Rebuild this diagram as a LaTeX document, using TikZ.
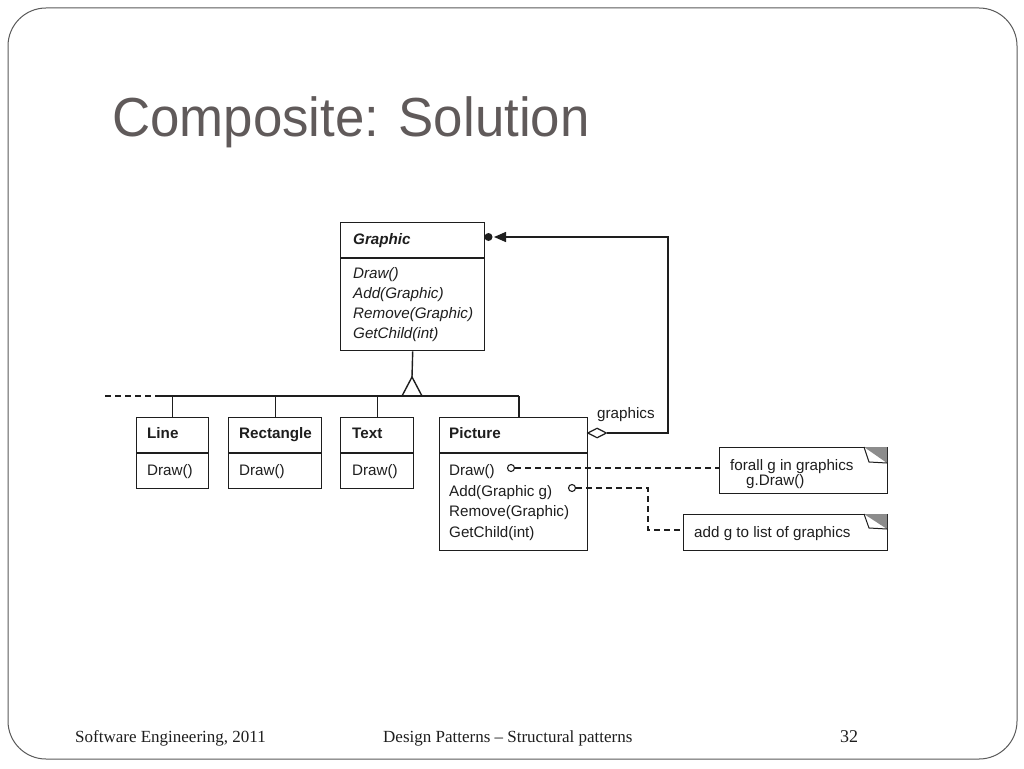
\documentclass[tikz,border=0pt]{standalone}
\usepackage{fontspec}
\setmainfont{Liberation Sans}
\newfontfamily\seriffont[Ligatures=TeX]{Liberation Serif}
\usetikzlibrary{arrows.meta,shapes.geometric}
\definecolor{titlegray}{RGB}{96,90,90}
\definecolor{framegray}{RGB}{90,90,90}
\definecolor{foldgray}{RGB}{140,140,140}
\definecolor{ink}{RGB}{30,30,30}
\begin{document}
\begin{tikzpicture}[x=1pt,y=-1pt,
  box/.style={draw=ink, line width=1.4pt, inner sep=0pt, anchor=north west},
  lbl/.style={anchor=base west, inner sep=0pt, text=ink, font=\fontsize{15.2}{18}\selectfont},
  hdr/.style={lbl, font=\fontsize{15.2}{18}\selectfont\bfseries},
  ihdr/.style={lbl, font=\fontsize{15.2}{18}\selectfont\bfseries\itshape},
  imeth/.style={lbl, font=\fontsize{15.2}{18}\selectfont\itshape},
  conn/.style={draw=ink, line width=1.4pt},
  dsh/.style={draw=ink, line width=1.3pt, dash pattern=on 6pt off 4pt},
  pin/.style={circle, draw=ink, line width=1.1pt, fill=white, inner sep=0pt, minimum size=7pt},
  foot/.style={anchor=base west, inner sep=0pt, text=ink, font=\seriffont\fontsize{17}{20}\selectfont}]
\useasboundingbox (0,0) rectangle (1024,768);
\fill[white] (0,0) rectangle (1024,768);
\draw[framegray, line width=1pt, rounded corners=38pt] (8,8) rectangle (1017,759);

% title
\node[anchor=base west, inner sep=0pt, text=titlegray, font=\fontsize{55}{62}\selectfont] (title) at (112,136) {\scalebox{0.96}[1]{Composite: Solution}};

% Graphic
\node[box, minimum width=144pt, minimum height=128pt] (graphic) at (340,222) {};
\draw[conn] (340,258) -- (484,258);
\node[ihdr] (gname) at (353,244) {Graphic};
\node[imeth] (g1) at (353,278) {Draw()};
\node[imeth] (g2) at (353,298) {Add(Graphic)};
\node[imeth] (g3) at (353,318) {Remove(Graphic)};
\node[imeth] (g4) at (353,338) {GetChild(int)};

% subclasses
\node[box, minimum width=72pt, minimum height=71pt] (line) at (136,417) {};
\draw[conn] (136,453) -- (208,453);
\node[hdr] (lname) at (147,438) {Line};
\node[lbl] (l1) at (147,475) {Draw()};

\node[box, minimum width=93pt, minimum height=71pt] (rect) at (228,417) {};
\draw[conn] (228,453) -- (321,453);
\node[hdr] (rname) at (239,438) {Rectangle};
\node[lbl] (r1) at (239,475) {Draw()};

\node[box, minimum width=73pt, minimum height=71pt] (text) at (340,417) {};
\draw[conn] (340,453) -- (413,453);
\node[hdr] (tname) at (352,438) {Text};
\node[lbl] (t1) at (352,475) {Draw()};

\node[box, minimum width=148pt, minimum height=133pt] (picture) at (439,417) {};
\draw[conn] (439,453) -- (587,453);
\node[hdr] (pname) at (449,438) {Picture};
\node[lbl] (p1) at (449,475) {Draw()};
\node[lbl] (p2) at (449,496) {Add(Graphic g)};
\node[lbl] (p3) at (449,516) {Remove(Graphic)};
\node[lbl] (p4) at (449,537) {GetChild(int)};

% inheritance
\coordinate (apex) at (412,377);
\draw[conn] (graphic.south) -- (apex);
\draw[conn, fill=white] (apex) -- (402,396) -- (422,396) -- cycle;
\coordinate (hl) at (160,396);
\coordinate (hr) at (519,396);
\draw[conn] (hl) -- (hr);
\draw[dsh] (105,396) -- (hl);
\draw[conn] (line.north) -- (line.north |- hl);
\draw[conn] (rect.north) -- (rect.north |- hl);
\draw[conn] (text.north) -- (text.north |- hl);
\draw[conn] (hr) -- (hr |- picture.north);

% aggregation
\node[diamond, draw=ink, line width=1.2pt, fill=white, inner sep=0pt, minimum width=19pt, minimum height=10pt, anchor=west] (agg) at (587,433) {};
\coordinate (aggcorner) at (668,237);
\coordinate (tip) at (494,237);
\draw[conn, -{Triangle[length=12pt,width=10pt]}] (agg.east) -| (aggcorner) -- (tip);
\fill[ink] (488.5,237) circle (4pt);
\node[lbl] (graphicslbl) at (597,418) {graphics};

% notes
\node[box, minimum width=168pt, minimum height=46pt] (note1) at (719,447) {};
\fill[foldgray] (864,447) -- (887,447) -- (887,463) -- cycle;
\draw[ink, line width=1pt, line join=round] (864,447) -- (869,462) -- (887,463);
\node[lbl] (n1a) at (730,470) {forall g in graphics};
\node[lbl] (n1b) at (746,485) {g.Draw()};

\node[box, minimum width=204pt, minimum height=36pt] (note2) at (683,514) {};
\fill[foldgray] (864,514) -- (887,514) -- (887,529) -- cycle;
\draw[ink, line width=1pt, line join=round] (864,514) -- (869,528) -- (887,529);
\node[lbl] (n2a) at (694,537) {add g to list of graphics};

% note links
\node[pin] (c1) at (511,468) {};
\node[pin] (c2) at (572,488) {};
\draw[dsh] (c1.east) -- (c1.east -| note1.west);
\coordinate (bend) at (648,530);
\draw[dsh] (c2.east) -| (bend) -- (bend -| note2.west);

% footer
\node[foot] (f1) at (75,742) {Software Engineering, 2011};
\node[foot] (f2) at (383,742) {Design Patterns – Structural patterns};
\node[foot, font=\seriffont\fontsize{18}{20}\selectfont] (f3) at (840,742) {32};
\end{tikzpicture}
\end{document}
